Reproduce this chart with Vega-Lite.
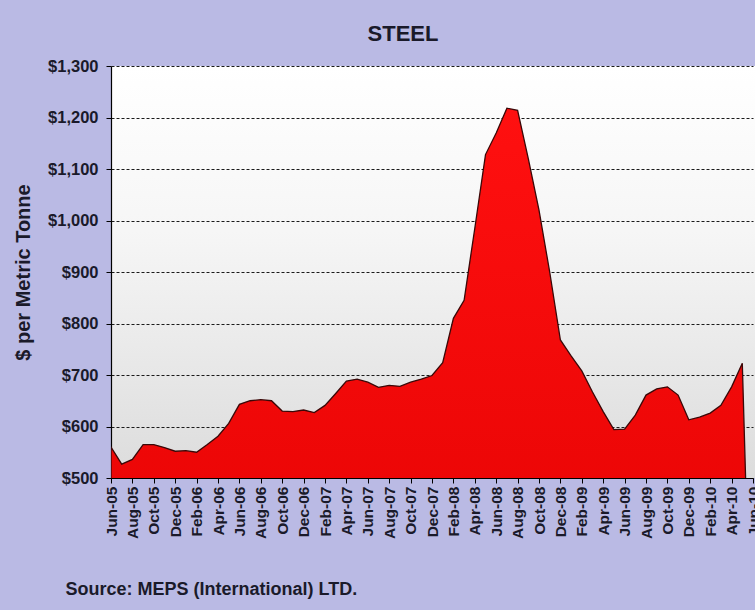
{
  "$schema": "https://vega.github.io/schema/vega-lite/v6.json",
  "autosize": "none",
  "width": 644,
  "height": 412,
  "padding": {"left": 111, "top": 66, "right": 0, "bottom": 132},
  "background": "#babae4",
  "title": {
    "text": "STEEL",
    "font": "Liberation Sans",
    "fontSize": 22,
    "fontWeight": "bold",
    "color": "#1a1a2a",
    "anchor": "middle",
    "frame": "group",
    "dx": -30,
    "offset": 12
  },
  "config": {
    "view": {
      "stroke": null,
      "fill": {
        "gradient": "linear",
        "x1": 0, "y1": 0, "x2": 0, "y2": 1,
        "stops": [
          {"offset": 0, "color": "#ffffff"},
          {"offset": 0.4, "color": "#f6f6f6"},
          {"offset": 1, "color": "#dcdcdc"}
        ]
      }
    },
    "axis": {
      "labelFont": "Liberation Sans",
      "labelFontWeight": "bold",
      "labelColor": "#1a1a2a",
      "titleFont": "Liberation Sans",
      "titleFontWeight": "bold",
      "titleColor": "#1a1a2a",
      "domainColor": "#000000",
      "domainWidth": 1.2,
      "tickColor": "#000000",
      "tickSize": 5
    }
  },
  "data": {
    "values": [
      {"m": "Jun-05", "v": 560}, {"m": "Jul-05", "v": 527}, {"m": "Aug-05", "v": 536},
      {"m": "Sep-05", "v": 565}, {"m": "Oct-05", "v": 565}, {"m": "Nov-05", "v": 559},
      {"m": "Dec-05", "v": 552}, {"m": "Jan-06", "v": 553}, {"m": "Feb-06", "v": 550},
      {"m": "Mar-06", "v": 565}, {"m": "Apr-06", "v": 581}, {"m": "May-06", "v": 606},
      {"m": "Jun-06", "v": 643}, {"m": "Jul-06", "v": 650}, {"m": "Aug-06", "v": 652},
      {"m": "Sep-06", "v": 650}, {"m": "Oct-06", "v": 630}, {"m": "Nov-06", "v": 629},
      {"m": "Dec-06", "v": 632}, {"m": "Jan-07", "v": 627}, {"m": "Feb-07", "v": 641},
      {"m": "Mar-07", "v": 664}, {"m": "Apr-07", "v": 688}, {"m": "May-07", "v": 692},
      {"m": "Jun-07", "v": 686}, {"m": "Jul-07", "v": 676}, {"m": "Aug-07", "v": 680},
      {"m": "Sep-07", "v": 678}, {"m": "Oct-07", "v": 686}, {"m": "Nov-07", "v": 692},
      {"m": "Dec-07", "v": 699}, {"m": "Jan-08", "v": 724}, {"m": "Feb-08", "v": 810},
      {"m": "Mar-08", "v": 845}, {"m": "Apr-08", "v": 985}, {"m": "May-08", "v": 1128},
      {"m": "Jun-08", "v": 1170}, {"m": "Jul-08", "v": 1218}, {"m": "Aug-08", "v": 1214},
      {"m": "Sep-08", "v": 1120}, {"m": "Oct-08", "v": 1020}, {"m": "Nov-08", "v": 900},
      {"m": "Dec-08", "v": 768}, {"m": "Jan-09", "v": 737}, {"m": "Feb-09", "v": 708},
      {"m": "Mar-09", "v": 667}, {"m": "Apr-09", "v": 629}, {"m": "May-09", "v": 594},
      {"m": "Jun-09", "v": 595}, {"m": "Jul-09", "v": 622}, {"m": "Aug-09", "v": 661},
      {"m": "Sep-09", "v": 673}, {"m": "Oct-09", "v": 677}, {"m": "Nov-09", "v": 661},
      {"m": "Dec-09", "v": 613}, {"m": "Jan-10", "v": 618}, {"m": "Feb-10", "v": 626},
      {"m": "Mar-10", "v": 641}, {"m": "Apr-10", "v": 677}, {"m": "May-10", "v": 723},
      {"m": "Jun-10", "v": 0}
    ]
  },
  "mark": {
    "type": "area",
    "clip": true,
    "interpolate": "linear",
    "color": {
      "gradient": "linear",
      "x1": 0, "y1": 0, "x2": 0, "y2": 1,
      "stops": [
        {"offset": 0, "color": "#ff1010"},
        {"offset": 1, "color": "#e00000"}
      ]
    },
    "stroke": "#3a0808",
    "strokeWidth": 1.3,
    "opacity": 1
  },
  "encoding": {
    "x": {
      "field": "m",
      "type": "ordinal",
      "sort": null,
      "scale": {"type": "point", "padding": 0, "range": [0, 642]},
      "axis": {
        "values": ["Jun-05","Aug-05","Oct-05","Dec-05","Feb-06","Apr-06","Jun-06","Aug-06","Oct-06","Dec-06","Feb-07","Apr-07","Jun-07","Aug-07","Oct-07","Dec-07","Feb-08","Apr-08","Jun-08","Aug-08","Oct-08","Dec-08","Feb-09","Apr-09","Jun-09","Aug-09","Oct-09","Dec-09","Feb-10","Apr-10","Jun-10"],
        "labelAngle": 270,
        "labelAlign": "right",
        "labelBaseline": "middle",
        "labelFontSize": 15.5,
        "labelPadding": 3,
        "labelOverlap": false,
        "grid": false,
        "title": "Source: MEPS (International) LTD.",
        "titleFont": "Liberation Sans",
        "titleFontSize": 18,
        "titleAnchor": null,
        "titleAlign": "left",
        "titleBaseline": "alphabetic",
        "titleX": -46,
        "titleY": 116
      }
    },
    "y": {
      "field": "v",
      "type": "quantitative",
      "scale": {"domain": [500, 1300], "zero": false, "nice": false},
      "axis": {
        "values": [500, 600, 700, 800, 900, 1000, 1100, 1200, 1300],
        "format": "$,.0f",
        "labelFontSize": 16.5,
        "labelPadding": 8,
        "grid": true,
        "gridColor": "#1a1a1a",
        "gridDash": [3, 2],
        "gridWidth": 1.2,
        "title": "$ per Metric Tonne",
        "titleFontSize": 20,
        "titlePadding": 14
      }
    }
  }
}
